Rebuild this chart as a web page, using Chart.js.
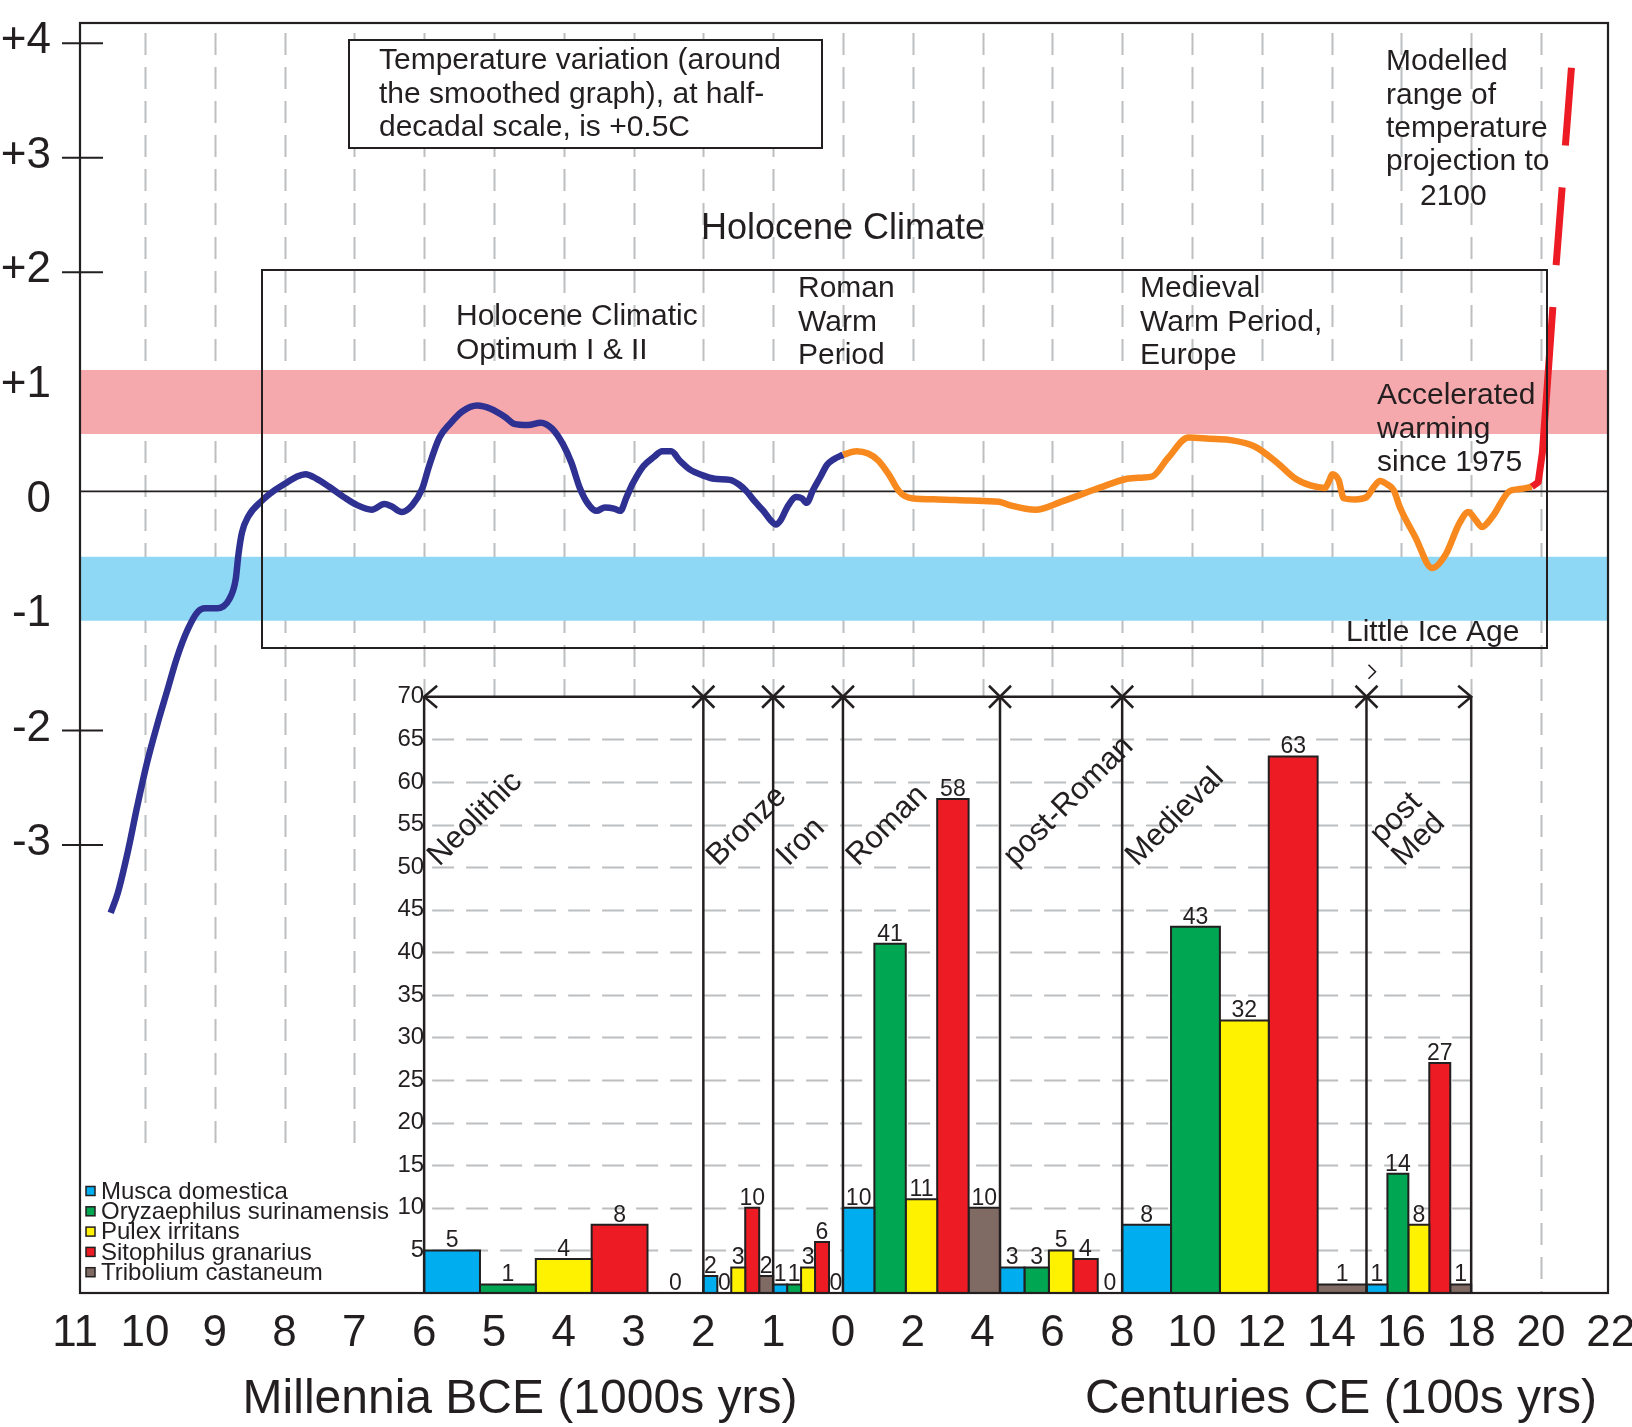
<!DOCTYPE html>
<html>
<head>
<meta charset="utf-8">
<script src="https://cdn.jsdelivr.net/npm/chart.js@4.4.1/dist/chart.umd.min.js"></script>
<style>
  html, body { margin: 0; padding: 0; background: #fff; }
</style>
</head>
<body>
<canvas id="climateChart" width="1632" height="1427"></canvas>
<script>
const FONT = "'Liberation Sans', Arial, Helvetica, sans-serif";
const INK = '#231f20';
const GRID = '#bcbec0';

// bottom axis: millennia BCE, then centuries CE
const xTickLabels = ['11', '10', '9', '8', '7', '6', '5', '4', '3', '2', '1', '0',
  '2', '4', '6', '8', '10', '12', '14', '16', '18', '20', '22'];
const tempTicks = [4, 3, 2, 1, 0, -1, -2, -3];
const tempTickMarks = [4, 3, 2, -2, -3];
const barTicks = [5, 10, 15, 20, 25, 30, 35, 40, 45, 50, 55, 60, 65, 70];

// smoothed Holocene temperature (deg C), BCE part in thousands of years BCE
const bceKyr = [10.49, 10.39, 10.25, 10.11, 9.97, 9.82, 9.69, 9.54, 9.39, 9.24, 9.14, 8.96,
  8.79, 8.70, 8.66, 8.61, 8.52, 8.32, 8.14, 7.96, 7.82, 7.70, 7.54, 7.36, 7.15, 6.96, 6.75,
  6.57, 6.47, 6.32, 6.17, 6.03, 5.93, 5.78, 5.63, 5.45, 5.24, 5.04, 4.84, 4.71, 4.51, 4.33,
  4.17, 4.01, 3.89, 3.77, 3.65, 3.53, 3.41, 3.28, 3.19, 3.10, 3.01, 2.86, 2.71, 2.59, 2.46,
  2.34, 2.19, 2.01, 1.84, 1.62, 1.49, 1.38, 1.26, 1.14, 1.04, 0.96, 0.89, 0.80, 0.67, 0.59,
  0.52, 0.43, 0.32, 0.23, 0.13, 0.00];
const bceTemp = [-3.68, -3.51, -3.16, -2.75, -2.37, -2.03, -1.76, -1.45, -1.21, -1.05, -1.02, -1.02,
  -0.94, -0.77, -0.55, -0.36, -0.22, -0.08, 0.01, 0.08, 0.13, 0.15, 0.11, 0.04, -0.05, -0.12, -0.16,
  -0.11, -0.13, -0.18, -0.12, 0.02, 0.22, 0.47, 0.59, 0.70, 0.75, 0.72, 0.65, 0.59, 0.58, 0.60,
  0.55, 0.41, 0.25, 0.03, -0.11, -0.17, -0.14, -0.15, -0.17, -0.05, 0.07, 0.22, 0.30, 0.35, 0.35,
  0.27, 0.19, 0.14, 0.11, 0.10, 0.06, 0.00, -0.09, -0.17, -0.25, -0.29, -0.25, -0.14, -0.05, -0.06,
  -0.10, 0.01, 0.13, 0.23, 0.28, 0.32];

// CE part in centuries CE
const ceCent = [0.00, 0.39, 0.72, 1.01, 1.31, 1.61, 1.97, 2.74, 3.64, 4.47, 4.77, 5.52, 6.26, 7.34,
  8.14, 8.56, 8.86, 9.31, 9.90, 10.50, 11.06, 11.81, 12.44, 12.97, 13.42, 13.81, 13.93, 14.02,
  14.20, 14.35, 14.67, 15.00, 15.21, 15.39, 15.60, 15.78, 15.96, 16.40, 16.88, 17.27, 17.66,
  17.92, 18.13, 18.31, 18.61, 19.09, 19.39, 19.74];
const ceTemp = [0.32, 0.35, 0.33, 0.27, 0.15, 0.00, -0.06, -0.07, -0.08, -0.09, -0.12, -0.16, -0.09,
  0.03, 0.11, 0.12, 0.13, 0.29, 0.47, 0.46, 0.45, 0.39, 0.25, 0.11, 0.05, 0.03, 0.09, 0.15, 0.10,
  -0.06, -0.07, -0.05, 0.04, 0.09, 0.06, 0.01, -0.14, -0.40, -0.67, -0.55, -0.28, -0.18, -0.25,
  -0.31, -0.22, 0.00, 0.02, 0.04];

// recent warming and modelled projection to 2100
const projCent = [19.74, 19.92, 20.04, 20.16, 20.34, 20.88];
const projTemp = [0.04, 0.08, 0.34, 0.84, 1.61, 3.73];

const warmBand = [0.5, 1.06];
const coldBand = [-0.57, -1.13];

// insect finds per archaeological period
const periods = ['Neolithic', 'Bronze', 'Iron', 'Roman', 'post-Roman', 'Medieval', 'post\nMed'];
const periodStart = [-6000, -2000, -1000, 0, 450, 800, 1500];
const periodEnd = [-2000, -1000, 0, 450, 800, 1500, 1800];
const species = ['Musca domestica', 'Oryzaephilus surinamensis', 'Pulex irritans',
  'Sitophilus granarius', 'Tribolium castaneum'];
const musca = [5, 2, 1, 10, 3, 8, 1];
const oryzaephilus = [1, 0, 1, 41, 3, 43, 14];
const pulex = [4, 3, 3, 11, 5, 32, 8];
const sitophilus = [8, 10, 6, 58, 4, 63, 27];
const tribolium = [0, 2, 0, 10, 0, 1, 1];
const speciesColors = ['#00aeef', '#00a651', '#fff200', '#ed1c24', '#806b64'];

// one axis step per millennium BCE, one per two centuries CE
const yearPos = yr => (yr < 0 ? 11 + yr / 1000 : 11 + yr / 200);
const X_MIN = 0.07, X_MAX = 21.96;
const speciesCounts = [musca, oryzaephilus, pulex, sitophilus, tribolium];

const pts = (xs, ys, toPos) => xs.map((v, i) => ({x: toPos(v), y: ys[i]}));

const datasets = [];
const band = (edge, color) => ({
  label: 'band', data: [{x: X_MIN, y: edge[0]}, {x: X_MAX, y: edge[0]}],
  fill: {value: edge[1]}, backgroundColor: color, borderWidth: 0, order: 30
});
datasets.push(band(warmBand, '#f6a9ac'));
datasets.push(band(coldBand, '#8ed8f6'));

periods.forEach((p, i) => {
  const p0 = yearPos(periodStart[i]), p1 = yearPos(periodEnd[i]);
  const w = (p1 - p0) / species.length;
  speciesCounts.forEach((counts, s) => {
    const x0 = p0 + s * w, x1 = x0 + w, v = counts[i];
    datasets.push({
      label: species[s] + ' / ' + p, yAxisID: 'yb',
      data: [{x: x0, y: 0}, {x: x0, y: v}, {x: x1, y: v}, {x: x1, y: 0}],
      fill: 'origin', backgroundColor: speciesColors[s], borderColor: INK,
      borderWidth: 2, borderJoinStyle: 'miter', tension: 0, order: 20
    });
  });
});

datasets.push({
  label: 'zero', data: [{x: X_MIN, y: 0}, {x: X_MAX, y: 0}],
  borderColor: INK, borderWidth: 1.6, order: 10
});
datasets.push({
  label: 'Holocene BCE', data: pts(bceKyr, bceTemp, k => yearPos(-k * 1000)),
  borderColor: '#2e3192', borderWidth: 6.5, cubicInterpolationMode: 'monotone', order: 2
});
datasets.push({
  label: 'Holocene CE', data: pts(ceCent, ceTemp, c => yearPos(c * 100)),
  borderColor: '#f7891f', borderWidth: 6.5, cubicInterpolationMode: 'monotone', order: 2
});
datasets.push({
  label: 'Projection', data: pts(projCent, projTemp, c => yearPos(c * 100)),
  borderColor: '#ed1c24', borderWidth: 7, tension: 0, order: 1,
  segment: {
    borderDash: c => (c.p1DataIndex === projCent.length - 1 ? [78, 42] : undefined),
    borderDashOffset: c => (c.p1DataIndex === projCent.length - 1 ? 78 : 0)
  }
});

function seg(ctx, x1, y1, x2, y2) {
  ctx.beginPath(); ctx.moveTo(x1, y1); ctx.lineTo(x2, y2); ctx.stroke();
}
function write(ctx, str, x, y, size, align) {
  ctx.font = size + 'px ' + FONT;
  ctx.textAlign = align || 'left';
  ctx.textBaseline = 'middle';
  ctx.fillText(str, x, y);
}
// keep the plot frame where the layout padding puts it
function noPad(s) {
  s.paddingLeft = 0; s.paddingRight = 0; s.paddingTop = 0; s.paddingBottom = 0;
}

const notes = [
  {lines: ['Holocene Climatic', 'Optimum I & II'], x: 456, y: 317},
  {lines: ['Roman', 'Warm', 'Period'], x: 798, y: 289},
  {lines: ['Medieval', 'Warm Period,', 'Europe'], x: 1140, y: 289},
  {lines: ['Accelerated', 'warming', 'since 1975'], x: 1377, y: 396},
  {lines: ['Little Ice Age'], x: 1346, y: 633},
  {lines: ['Modelled', 'range of', 'temperature', 'projection to'], x: 1386, y: 62},
  {lines: ['2100'], x: 1420, y: 197}
];

const decor = {
  id: 'decor',
  beforeDatasetsDraw(chart) {
    const {ctx, chartArea: a, scales: {x, yb}} = chart;
    const first = yearPos(periodStart[0]), last = yearPos(periodEnd[periodEnd.length - 1]);
    ctx.save();
    ctx.strokeStyle = GRID;
    ctx.lineWidth = 2;
    ctx.setLineDash([22, 12]);
    for (let i = 1; i < xTickLabels.length - 1; i++) {
      const px = Math.round(x.getPixelForValue(i)) + 0.5;
      let bottom = a.bottom;
      if (i < first) bottom = yb.getPixelForValue(17.5);
      else if (i <= last) bottom = yb.getPixelForValue(70);
      seg(ctx, px, a.top + 10, px, bottom);
    }
    const bx0 = x.getPixelForValue(first), bx1 = x.getPixelForValue(last);
    barTicks.slice(0, -1).forEach(v => {
      const py = Math.round(yb.getPixelForValue(v)) + 0.5;
      seg(ctx, bx0 + 8, py, bx1, py);
    });
    ctx.restore();
  },
  afterDatasetsDraw(chart) {
    const {ctx, chartArea: a, scales: {x, y, yb}} = chart;
    ctx.save();
    ctx.strokeStyle = INK;
    ctx.fillStyle = INK;

    // note box
    ctx.lineWidth = 2;
    ctx.fillStyle = '#fff';
    ctx.fillRect(349, 40, 473, 108);
    ctx.strokeRect(349, 40, 473, 108);
    ctx.fillStyle = INK;
    ['Temperature variation (around', 'the smoothed graph), at half-', 'decadal scale, is +0.5C']
      .forEach((t, k) => write(ctx, t, 379, 61 + k * 33.3, 30));

    // Holocene box and labels
    ctx.strokeRect(262, 270, 1285, 378);
    write(ctx, 'Holocene Climate', 843, 229, 36, 'center');
    notes.forEach(n => n.lines.forEach((t, k) => write(ctx, t, n.x, n.y + k * 33.4, 30)));

    // frame and temperature tick marks (drawn a little low, as in the source figure)
    ctx.lineWidth = 2.2;
    ctx.strokeRect(a.left, a.top, a.right - a.left, a.bottom - a.top);
    ctx.lineWidth = 2;
    tempTickMarks.forEach(v => {
      const py = y.getPixelForValue(v) + 10;
      seg(ctx, 62, py, 103, py);
    });

    // bar panel: period dividers, arrow line, labels
    const bounds = periodStart.concat([periodEnd[periodEnd.length - 1]])
      .map(yr => x.getPixelForValue(yearPos(yr)));
    const yTop = yb.getPixelForValue(70), yBot = yb.getPixelForValue(0);
    ctx.lineWidth = 2.5;
    bounds.forEach(px => seg(ctx, px, yTop, px, yBot));
    seg(ctx, bounds[0], yTop, bounds[bounds.length - 1], yTop);
    const h = 11;
    bounds.slice(1, -1).forEach(px => {
      seg(ctx, px - h, yTop - h, px + h, yTop + h);
      seg(ctx, px - h, yTop + h, px + h, yTop - h);
    });
    const l = bounds[0], r = bounds[bounds.length - 1];
    ctx.beginPath(); ctx.moveTo(l + 13, yTop - h); ctx.lineTo(l, yTop); ctx.lineTo(l + 13, yTop + h); ctx.stroke();
    ctx.beginPath(); ctx.moveTo(r - 13, yTop - h); ctx.lineTo(r, yTop); ctx.lineTo(r - 13, yTop + h); ctx.stroke();
    const pm = bounds[bounds.length - 2];
    ctx.lineWidth = 1.6;
    ctx.beginPath(); ctx.moveTo(pm + 2, yTop - 32); ctx.lineTo(pm + 9, yTop - 25); ctx.lineTo(pm + 2, yTop - 18); ctx.stroke();

    ctx.font = '31px ' + FONT;
    ctx.textAlign = 'left';
    ctx.textBaseline = 'alphabetic';
    const labelY = yb.getPixelForValue(50);
    periods.forEach((p, i) => {
      const lines = p.split('\n');
      lines.forEach((t, k) => {
        const shift = (k - lines.length + 1) * 22;
        ctx.save();
        ctx.translate(bounds[i] + 15 + k * 22, labelY + shift);
        ctx.rotate(-Math.PI / 4);
        ctx.fillText(t, 0, 0);
        ctx.restore();
      });
    });

    // value labels above bars
    ctx.font = '23px ' + FONT;
    ctx.textAlign = 'center';
    ctx.textBaseline = 'alphabetic';
    periods.forEach((p, i) => {
      const p0 = yearPos(periodStart[i]), p1 = yearPos(periodEnd[i]);
      const w = (p1 - p0) / species.length;
      speciesCounts.forEach((counts, s) => {
        const cx = x.getPixelForValue(p0 + (s + 0.5) * w);
        ctx.fillText(String(counts[i]), cx, yb.getPixelForValue(counts[i]) - 3);
      });
    });

    // legend
    ctx.lineWidth = 1.5;
    species.forEach((name, s) => {
      const cy = 1191 + s * 20.3;
      ctx.fillStyle = speciesColors[s];
      ctx.fillRect(86, cy - 4.5, 9, 9);
      ctx.strokeRect(86, cy - 4.5, 9, 9);
      ctx.fillStyle = INK;
      write(ctx, name, 101, cy + 1, 24);
    });

    // axis titles
    write(ctx, 'Millennia BCE (1000s yrs)', 520, 1400, 48, 'center');
    write(ctx, 'Centuries CE (100s yrs)', 1341, 1400, 48, 'center');
    ctx.restore();
  }
};

new Chart(document.getElementById('climateChart'), {
  type: 'line',
  data: {datasets: datasets},
  options: {
    responsive: false,
    animation: false,
    events: [],
    layout: {padding: {left: 0, right: 24, top: 23, bottom: 0}, autoPadding: false},
    elements: {
      point: {radius: 0, hoverRadius: 0},
      line: {borderJoinStyle: 'round', borderCapStyle: 'butt'}
    },
    plugins: {legend: {display: false}, tooltip: {enabled: false}},
    scales: {
      x: {
        type: 'linear', min: X_MIN, max: X_MAX,
        afterBuildTicks: s => { s.ticks = xTickLabels.map((_, i) => ({value: i})); },
        afterFit: s => { s.height = 134; noPad(s); },
        ticks: {
          autoSkip: false, maxRotation: 0, padding: 14, color: INK,
          font: {family: FONT, size: 44},
          callback: (v, i) => xTickLabels[i]
        },
        grid: {display: false, drawTicks: false},
        border: {display: false}
      },
      y: {
        type: 'linear', position: 'left', min: -7.0, max: 4.09,
        afterBuildTicks: s => { s.ticks = tempTicks.map(v => ({value: v})); },
        afterFit: s => { s.width = 80; noPad(s); },
        ticks: {
          padding: 29, labelOffset: 8, color: INK, font: {family: FONT, size: 44},
          callback: v => (v > 0 ? '+' + v : String(v))
        },
        grid: {display: false, drawTicks: false},
        border: {display: false}
      },
      yb: {
        type: 'linear', axis: 'y', position: {x: yearPos(periodStart[0])}, min: 0, max: 149.1,
        afterBuildTicks: s => { s.ticks = barTicks.map(v => ({value: v})); },
        afterFit: noPad,
        ticks: {padding: 0, color: INK, font: {family: FONT, size: 24}},
        grid: {display: false, drawTicks: false},
        border: {display: false}
      }
    }
  },
  plugins: [decor]
});
</script>
</body>
</html>
